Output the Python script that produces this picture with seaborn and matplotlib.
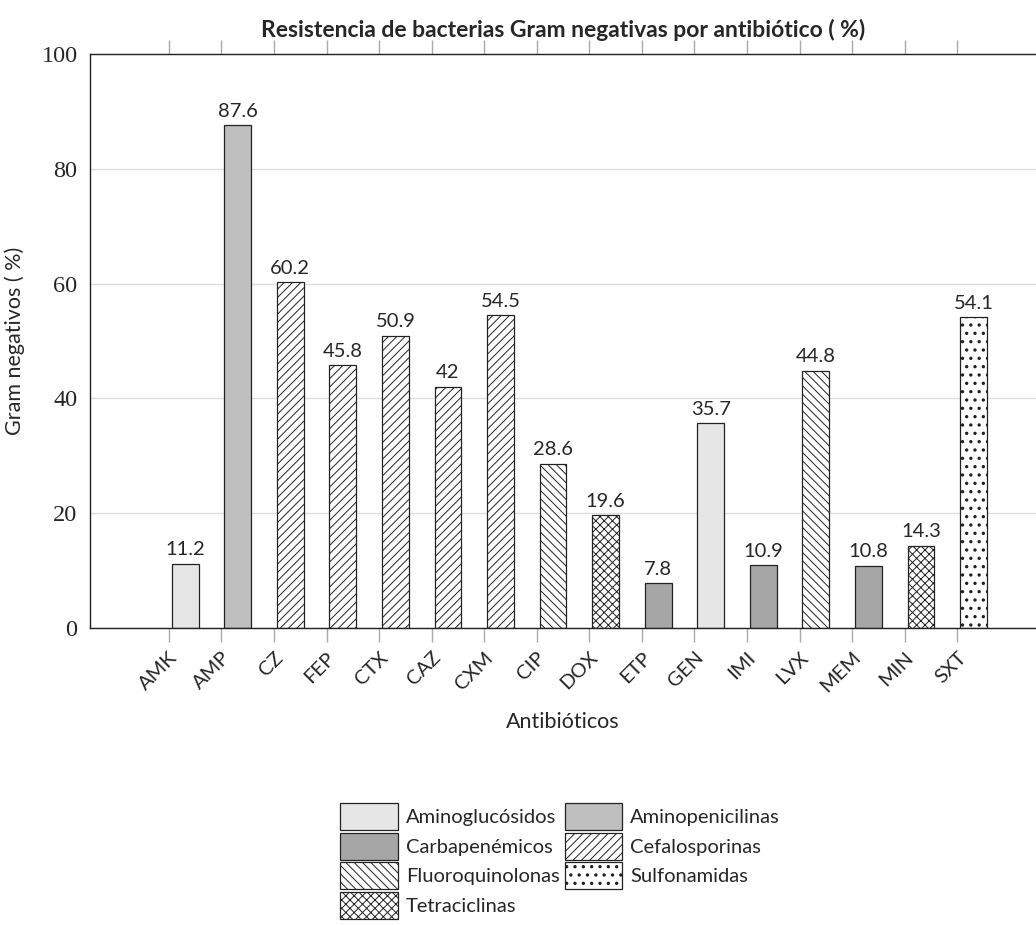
import matplotlib

matplotlib.use("Agg")

import matplotlib.pyplot as plt
import pandas as pd
import seaborn as sns
from matplotlib.patches import Patch


ANTIBIOTICS = ["AMK", "AMP", "CZ", "FEP", "CTX", "CAZ", "CXM", "CIP",
               "DOX", "ETP", "GEN", "IMI", "LVX", "MEM", "MIN", "SXT"]
RESISTANCE = [11.2, 87.6, 60.2, 45.8, 50.9, 42, 54.5, 28.6,
              19.6, 7.8, 35.7, 10.9, 44.8, 10.8, 14.3, 54.1]
FAMILIES = ["Aminoglucósidos", "Aminopenicilinas", "Cefalosporinas", "Cefalosporinas",
            "Cefalosporinas", "Cefalosporinas", "Cefalosporinas", "Fluoroquinolonas",
            "Tetraciclinas", "Carbapenémicos", "Aminoglucósidos", "Carbapenémicos",
            "Fluoroquinolonas", "Carbapenémicos", "Tetraciclinas", "Sulfonamidas"]

FAMILY_ORDER = ["Aminoglucósidos", "Aminopenicilinas", "Carbapenémicos", "Cefalosporinas",
                "Fluoroquinolonas", "Sulfonamidas", "Tetraciclinas"]
FAMILY_FACE = {
    "Aminoglucósidos": "#e6e6e6",
    "Aminopenicilinas": "#bfbfbf",
    "Carbapenémicos": "#a6a6a6",
    "Cefalosporinas": "white",
    "Fluoroquinolonas": "white",
    "Sulfonamidas": "white",
    "Tetraciclinas": "white",
}
FAMILY_HATCH = {
    "Aminoglucósidos": None,
    "Aminopenicilinas": None,
    "Carbapenémicos": None,
    "Cefalosporinas": "////",
    "Fluoroquinolonas": "\\\\\\\\",
    "Sulfonamidas": "..",
    "Tetraciclinas": "xxxx",
}
DOT_LW = 1.2

SANS = ["Lato", "DejaVu Sans"]
SERIF = ["Liberation Serif", "DejaVu Serif"]
FS = 14.5

sns.set_theme(style="white")
plt.rcParams["font.family"] = SANS
plt.rcParams["hatch.linewidth"] = 0.7

df = pd.DataFrame({
    "antibiotic": ANTIBIOTICS,
    "pos": [i + 0.31 for i in range(len(ANTIBIOTICS))],
    "value": RESISTANCE,
    "family": FAMILIES,
})

fig = plt.figure(figsize=(10.36, 9.25), dpi=100)
ax = fig.add_axes([90 / 1036, 1 - 628 / 925, 1 - 90 / 1036, (628 - 54) / 925])

sns.barplot(data=df, x="pos", y="value", hue="family", hue_order=FAMILY_ORDER,
            palette=FAMILY_FACE, native_scale=True, dodge=False, width=0.51,
            edgecolor="#222222", linewidth=0.9, legend=False, ax=ax, saturation=1)

for family, container in zip(FAMILY_ORDER, ax.containers):
    for bar in container:
        bar.set_hatch(FAMILY_HATCH[family])
        if family == "Sulfonamidas" and hasattr(bar, "set_hatch_linewidth"):
            bar.set_hatch_linewidth(DOT_LW)
    ax.bar_label(container, fmt="%g", padding=4, fontsize=FS, family=SANS)

ax.set_xlim(-1.5, 16.5)
ax.set_ylim(0, 100)
ax.set_xticks(range(len(ANTIBIOTICS)))
ax.set_xticklabels(ANTIBIOTICS, rotation=45, ha="right", rotation_mode="anchor",
                   fontsize=FS)
ax.set_yticks([0, 20, 40, 60, 80, 100])
ax.set_yticklabels(["0", "20", "40", "60", "80", "100"], family=SERIF, fontsize=17.5)
ax.tick_params(axis="x", which="major", bottom=True, top=True, direction="out",
               length=10, width=1, color="#aaaaaa", pad=5)
ax.tick_params(axis="y", left=False, pad=3)
ax.yaxis.grid(True, color="#dddddd", linewidth=1)
ax.set_axisbelow(True)
ax.spines["right"].set_visible(False)
for side in ["left", "bottom", "top"]:
    ax.spines[side].set_color("#222222")
    ax.spines[side].set_linewidth(1)

ax.set_xlabel("Antibióticos", fontsize=15.5, labelpad=12)
ax.set_ylabel("Gram negativos ( %)", fontsize=15.5, labelpad=12)
ax.set_title("Resistencia de bacterias Gram negativas por antibiótico ( %)",
             fontsize=16.5, fontweight="bold", pad=12, x=(563 - 90) / (1036 - 90))

legend_cols = [FAMILY_ORDER[0], FAMILY_ORDER[2], FAMILY_ORDER[4], FAMILY_ORDER[6],
               FAMILY_ORDER[1], FAMILY_ORDER[3], FAMILY_ORDER[5]]
handles = []
for family in legend_cols:
    handle = Patch(facecolor=FAMILY_FACE[family], edgecolor="#222222",
                   hatch=FAMILY_HATCH[family], linewidth=0.9, label=family)
    handles.append(handle)
leg = fig.legend(handles=handles, ncol=2, loc="center", bbox_to_anchor=(560 / 1036, 1 - 861 / 925),
                 frameon=False, fontsize=FS, handlelength=2.85, handleheight=1.7,
                 labelspacing=0.12, columnspacing=0.25, handletextpad=0.4, borderpad=0)
for patch in leg.get_patches():
    if hasattr(patch, "set_hatch_linewidth") and patch.get_hatch() == "..":
        patch.set_hatch_linewidth(DOT_LW)

fig.savefig("out.png", dpi=100)
